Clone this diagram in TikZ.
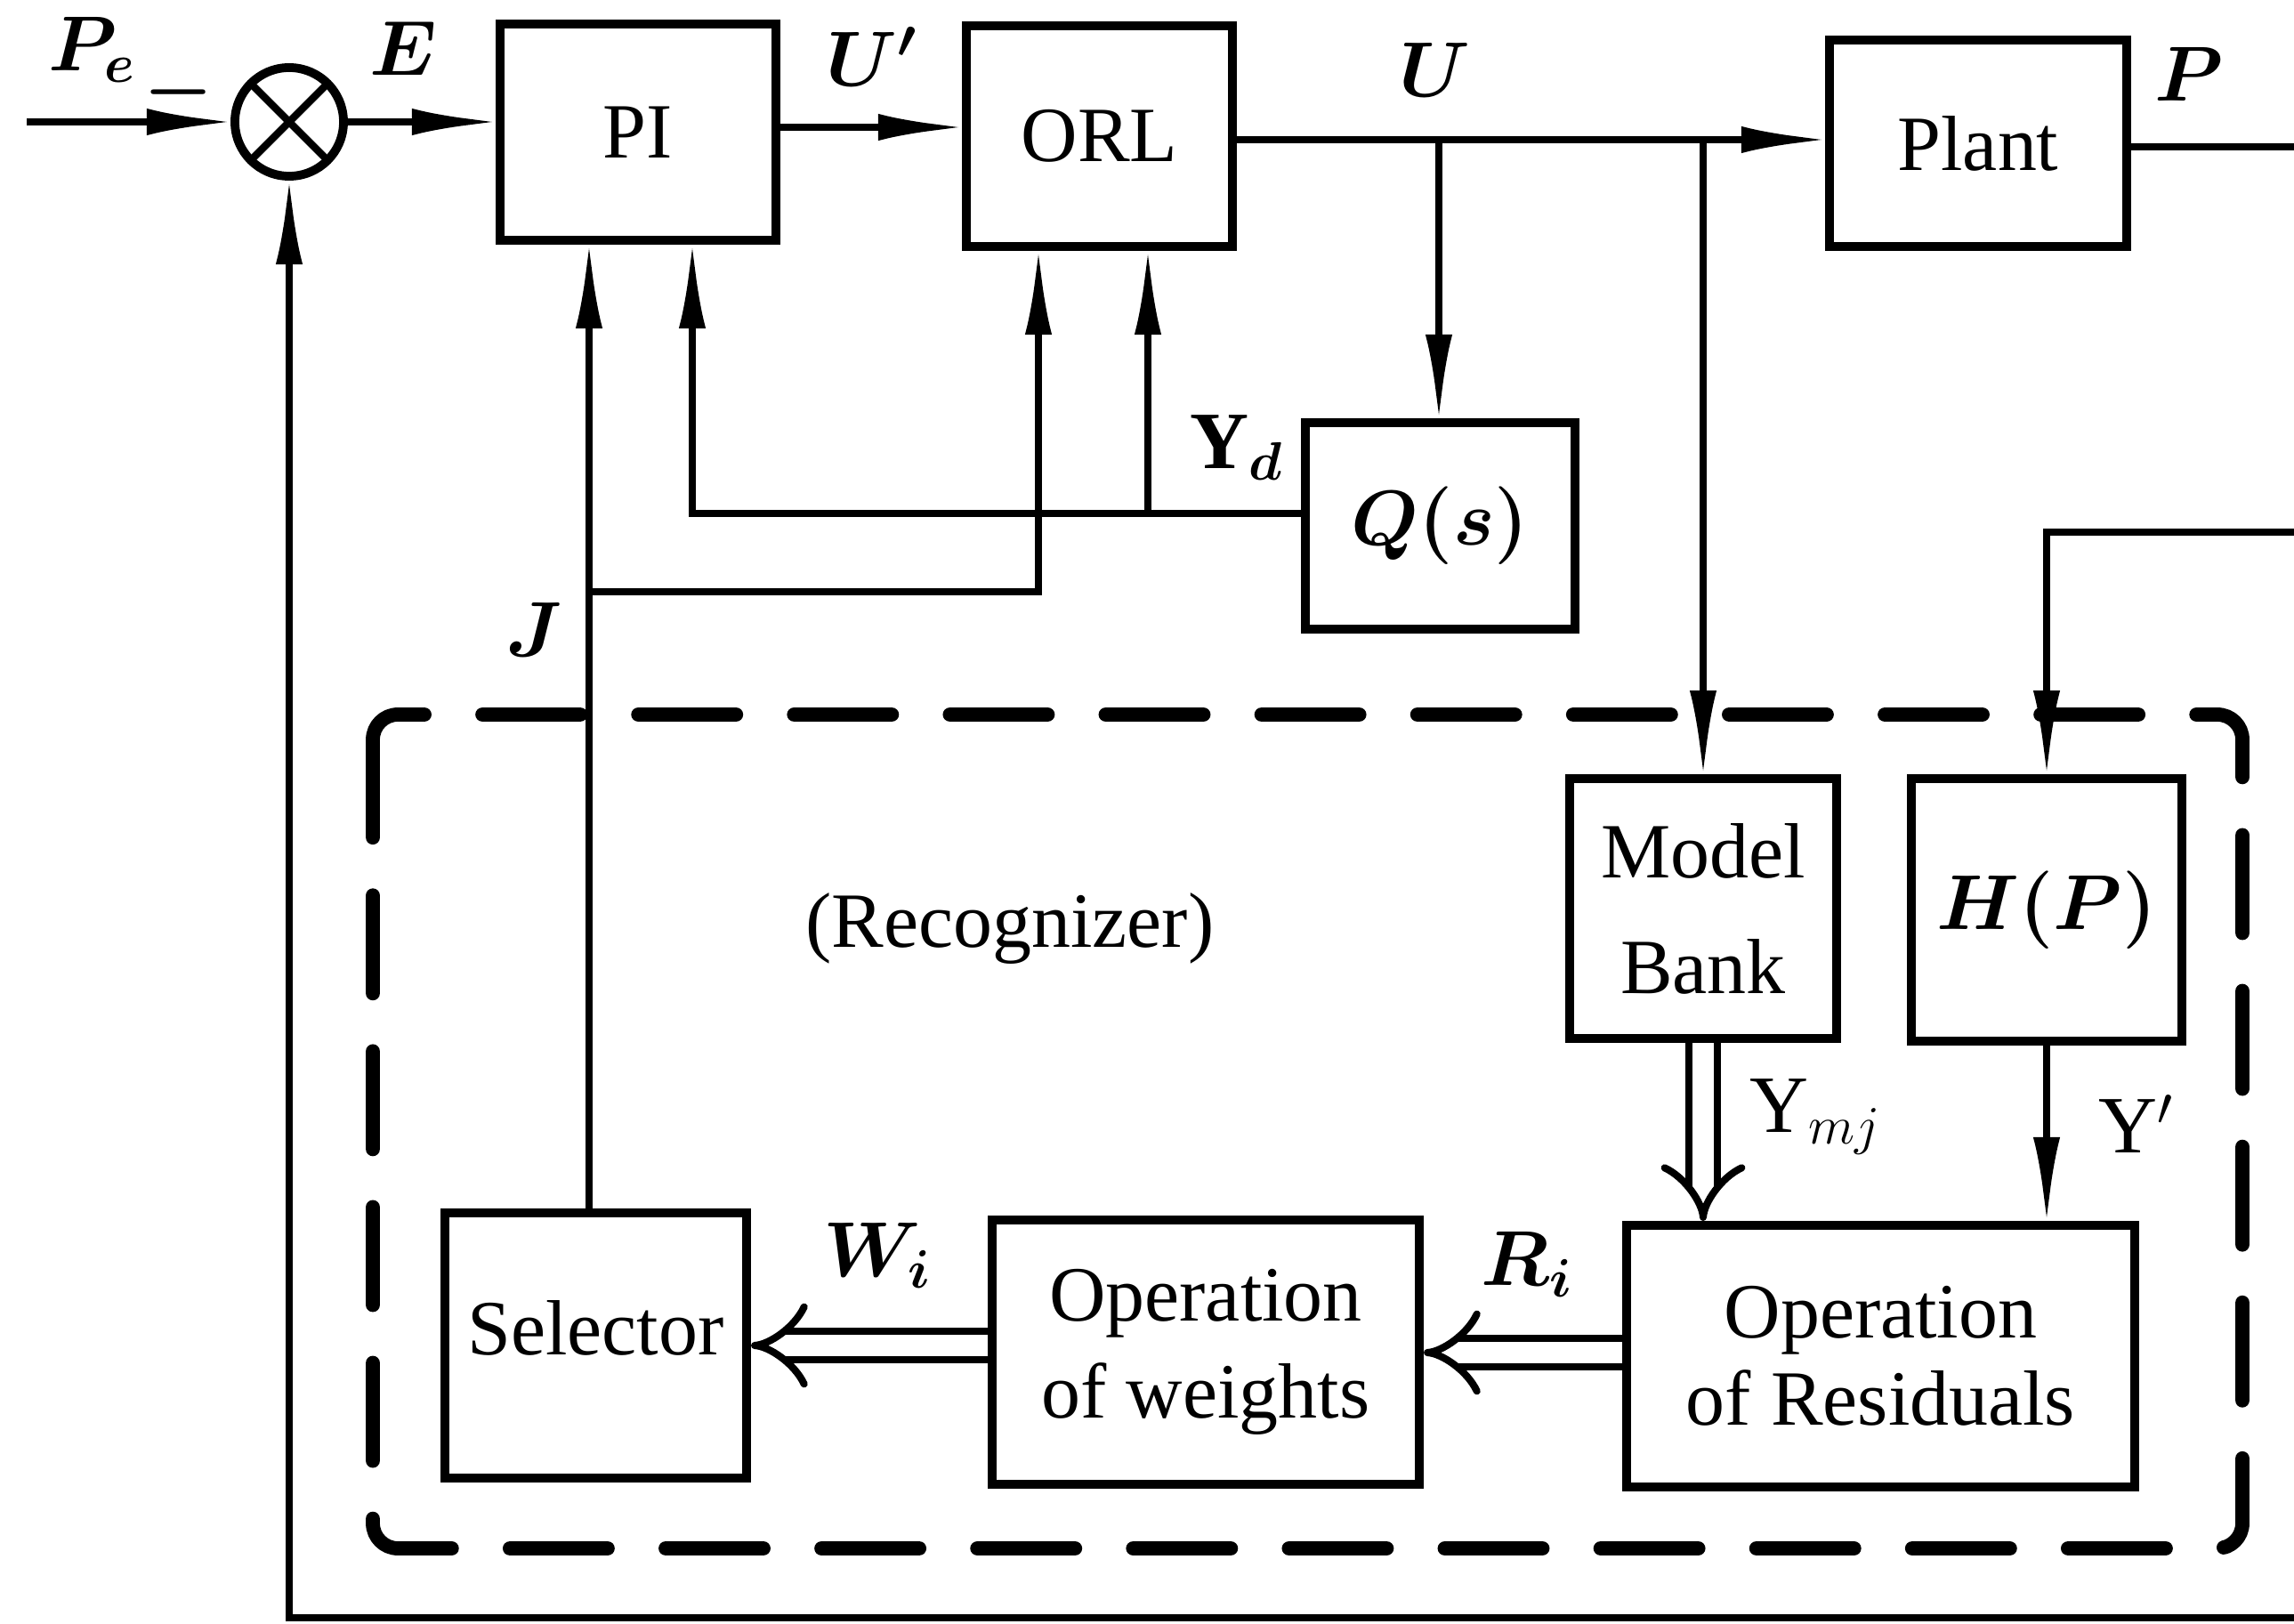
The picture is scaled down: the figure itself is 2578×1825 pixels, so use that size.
\documentclass[tikz,border=0pt]{standalone}
\usepackage{fontspec}
\setmainfont{Liberation Serif}
\usetikzlibrary{arrows.meta,calc}
\begin{document}
\begin{tikzpicture}[x=0.01cm,y=-0.01cm,
  box/.style={draw,line width=2.8pt,inner sep=0pt,align=center,font=\fontsize{25}{31}\selectfont},
  arr/.style={line width=2.5pt,shorten >=-0.06cm,-{Latex[length=1cm,width=0.3cm]}},
  ln/.style={line width=2.5pt},
  dbl/.style={line width=2.3pt,double=white,double distance=7pt,-{Implies}},
  lbl/.style={inner sep=0pt,font=\fontsize{26}{30}\selectfont\boldmath},
  lblr/.style={inner sep=0pt,font=\fontsize{26}{30}\selectfont},
  dashbox/.style={line width=4.5pt,line cap=round,dash pattern=on 1.1cm off 0.65cm,rounded corners=8pt}]
\useasboundingbox (0,0) rectangle (2578,1825);

% blocks
\node[draw,circle,line width=2.8pt,minimum size=1.22cm,inner sep=0pt,
  path picture={\draw[line width=2.4pt] (path picture bounding box.north west) -- (path picture bounding box.south east)
  (path picture bounding box.north east) -- (path picture bounding box.south west);}] (sum) at (325,137) {};
\node[box,minimum width=3.10cm,minimum height=2.43cm] (pi) at (717,148.5) {PI};
\node[box,minimum width=2.99cm,minimum height=2.48cm] (orl) at (1235.5,153) {ORL};
\node[box,minimum width=3.34cm,minimum height=2.32cm] (plant) at (2223,161) {Plant};
\node[box,minimum width=3.03cm,minimum height=2.32cm,font=\fontsize{26}{30}\selectfont\boldmath] (q) at (1618.5,591) {$Q(s)$};
\node[box,minimum width=3.00cm,minimum height=2.92cm,font=\fontsize{25}{37}\selectfont] (model) at (1914,1021) {Model\\Bank};
\node[box,minimum width=3.04cm,minimum height=2.95cm,font=\fontsize{26}{30}\selectfont\boldmath] (hp) at (2300,1022.5) {$H(P)$};
\node[box,minimum width=5.71cm,minimum height=2.94cm,font=\fontsize{25}{28}\selectfont] (opres) at (2113.5,1524) {Operation\\of Residuals};
\node[box,minimum width=4.80cm,minimum height=2.97cm,font=\fontsize{25}{31}\selectfont] (opw) at (1355,1519.5) {Operation\\of weights};
\node[box,minimum width=3.39cm,minimum height=2.98cm,text depth=0.4cm] (sel) at (669.5,1512) {Selector};

% recognizer frame
\draw[dashbox] (419,803) rectangle (2520,1740);
\node[inner sep=0pt,font=\fontsize{25}{30}\selectfont] (rec) at (1135,1043) {(Recognizer)};

% labels
\node[lbl] (lpe) at (104,56) {$P_e$};
\node[lbl] (lminus) at (201,104) {$-$};
\node[lbl] (lE) at (453,54) {$E$};
\node[lbl] (lU1) at (980,64) {$U'$};
\node[lbl] (lU) at (1612,78) {$U$};
\node[lbl] (lP) at (2460,83) {$P$};
\node[lbl] (lYd) at (1390,503) {$\mathrm{Y}_d$};
\node[lbl] (lJ) at (601,707) {$J$};
\node[lbl] (lW) at (986,1411) {$W_i$};
\node[lbl] (lR) at (1716,1421) {$R_i$};
\node[lblr] (lYm) at (2040,1255) {$\mathrm{Y}_{mj}$};
\node[lblr] (lY1) at (2401,1263) {$\mathrm{Y}'$};

% helper coordinates
\coordinate (pein) at (30,137);
\coordinate (yU1) at (0,143);
\coordinate (yU) at (0,157);
\coordinate (yP) at (0,165);
\coordinate (pout) at (2578,165);
\coordinate (xU) at (1617,0);
\coordinate (hpin) at (2578,598);
\coordinate (xJ) at (662,0);
\coordinate (xYdPI) at (778,0);
\coordinate (xJORL) at (1167,0);
\coordinate (xYdORL) at (1290,0);
\coordinate (yYd) at (0,577);
\coordinate (yJ) at (0,665);
\coordinate (yR) at (0,1520);
\coordinate (yW) at (0,1512);
\coordinate (fbr) at (2578,1818);

% connectors
\draw[arr] (pein) -- (sum.west);
\draw[arr] (sum.east) -- (pi.west |- sum.east);
\draw[arr] (pi.east |- yU1) -- (orl.west |- yU1);
\draw[arr] (orl.east |- yU) -- (plant.west |- yU);
\draw[ln] (plant.east |- yP) -- (pout);
\draw[arr] (xU |- yU) -- (q.north -| xU);
\draw[arr] (model.north |- yU) -- (model.north);
\draw[arr] (hpin) -- (hp.north |- hpin) -- (hp.north);
\draw[arr] (q.west |- yYd) -| (pi.south -| xYdPI);
\draw[arr] (xYdORL |- yYd) -- (orl.south -| xYdORL);
\draw[arr] (sel.north -| xJ) -- (pi.south -| xJ);
\draw[arr] (xJ |- yJ) -| (orl.south -| xJORL);
\draw[dbl] (model.south) -- (model.south |- opres.north);
\draw[arr] (hp.south) -- (hp.south |- opres.north);
\draw[dbl] (opres.west |- yR) -- (opw.east |- yR);
\draw[dbl] (opw.west |- yW) -- (sel.east |- yW);
\draw[arr] (fbr) -| (sum.south);
\end{tikzpicture}
\end{document}
